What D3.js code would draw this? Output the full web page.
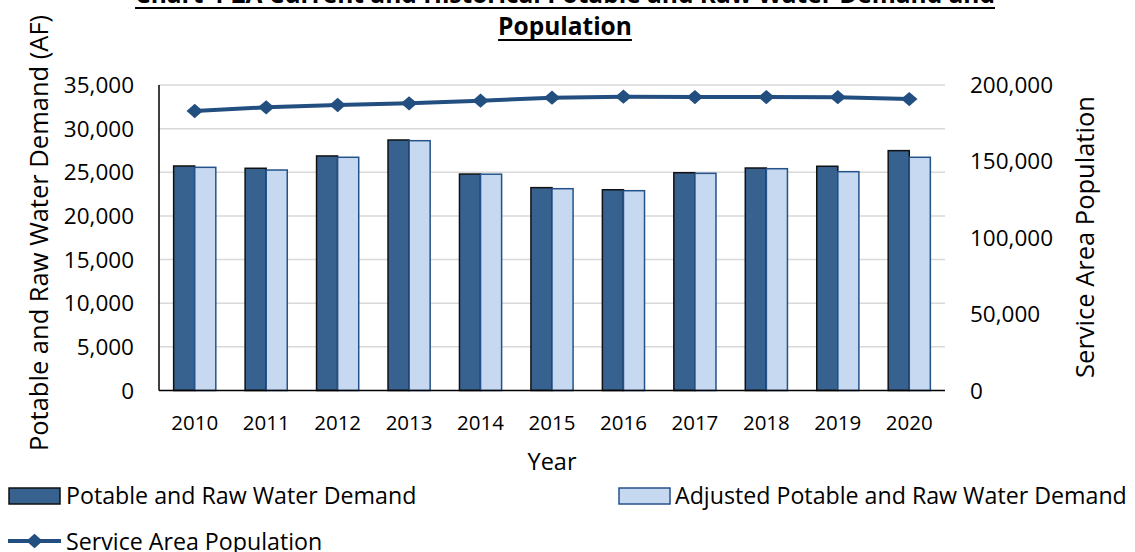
<!DOCTYPE html>
<html>
<head>
<meta charset="utf-8">
<script src="https://cdn.jsdelivr.net/npm/d3@7"></script>
<style>
  body { margin: 0; background: #fff; }
  svg { display: block; font-family: "Open Sans", Lato, sans-serif; }
</style>
</head>
<body>
<svg id="chart" width="1135" height="552"></svg>
<script>
var years = ['2010', '2011', '2012', '2013', '2014', '2015', '2016', '2017', '2018', '2019', '2020'];
var demand = [25720, 25460, 26870, 28700, 24800, 23240, 23000, 24950, 25490, 25690, 27480];
var adjusted = [25570, 25260, 26720, 28620, 24780, 23120, 22890, 24880, 25410, 25070, 26720];
var population = [182980, 185400, 186900, 188000, 189700, 191700, 192340, 192100, 192100, 192000, 190800];
var leftTicks = [0, 5000, 10000, 15000, 20000, 25000, 30000, 35000];
var rightTicks = [0, 50000, 100000, 150000, 200000];
var seriesNames = ['Potable and Raw Water Demand', 'Adjusted Potable and Raw Water Demand', 'Service Area Population'];

var dark = '#37618f', darkStroke = '#111';
var light = '#c6d9f0', lightStroke = '#24528a';
var lineColor = '#234e80';
var grid = '#d9d9d9';
var fmt = d3.format(',');

var svg = d3.select('#chart');
var plotLeft = 159, plotRight = 945, plotTop = 85, plotBottom = 390.5;

var x0 = d3.scaleBand().domain(years).range([plotLeft, plotRight]).paddingInner(0.41).paddingOuter(0.205);
var x1 = d3.scaleBand().domain([0, 1]).range([0, x0.bandwidth()]);
var yL = d3.scaleLinear().domain([0, 35000]).range([plotBottom, plotTop]);
var yR = d3.scaleLinear().domain([0, 200000]).range([plotBottom, plotTop]);

// gridlines
svg.append('g').selectAll('line').data(leftTicks.slice(1)).enter().append('line')
    .attr('x1', plotLeft).attr('x2', plotRight)
    .attr('y1', function (d) { return yL(d); })
    .attr('y2', function (d) { return yL(d); })
    .attr('stroke', grid).attr('stroke-width', 1.5);

// bars
var groups = svg.append('g').selectAll('g').data(years).enter().append('g')
    .attr('transform', function (d) { return 'translate(' + x0(d) + ',0)'; });
groups.append('rect')
    .attr('x', x1(0))
    .attr('width', x1.bandwidth())
    .attr('y', function (d, i) { return yL(demand[i]); })
    .attr('height', function (d, i) { return plotBottom - yL(demand[i]); })
    .attr('fill', dark).attr('stroke', darkStroke).attr('stroke-width', 1.5);
groups.append('rect')
    .attr('x', x1(1))
    .attr('width', x1.bandwidth())
    .attr('y', function (d, i) { return yL(adjusted[i]); })
    .attr('height', function (d, i) { return plotBottom - yL(adjusted[i]); })
    .attr('fill', light).attr('stroke', lightStroke).attr('stroke-width', 1.5);

// axis lines
svg.append('line').attr('x1', plotLeft).attr('x2', plotLeft).attr('y1', plotTop).attr('y2', plotBottom)
    .attr('stroke', '#000').attr('stroke-width', 1.5);
svg.append('line').attr('x1', plotLeft).attr('x2', plotRight).attr('y1', plotBottom).attr('y2', plotBottom)
    .attr('stroke', '#000').attr('stroke-width', 1.5);

// population line
var cx = function (i) { return x0(years[i]) + x0.bandwidth() / 2; };
var line = d3.line()
    .x(function (d, i) { return cx(i); })
    .y(function (d) { return yR(d); });
svg.append('path').datum(population)
    .attr('d', line).attr('fill', 'none')
    .attr('stroke', lineColor).attr('stroke-width', 4);
var diamond = d3.symbol().type(d3.symbolDiamond2).size(130);
svg.append('g').selectAll('path').data(population).enter().append('path')
    .attr('d', diamond)
    .attr('transform', function (d, i) { return 'translate(' + cx(i) + ',' + yR(d) + ') scale(1.15,1)'; })
    .attr('fill', lineColor);

// tick labels
svg.append('g').selectAll('text').data(leftTicks).enter().append('text')
    .attr('x', 134).attr('y', function (d) { return yL(d) + 8; })
    .attr('text-anchor', 'end').attr('font-size', 22.5).attr('fill', '#000')
    .text(function (d) { return fmt(d); });
svg.append('g').selectAll('text').data(rightTicks).enter().append('text')
    .attr('x', 970).attr('y', function (d) { return yR(d) + 8; })
    .attr('text-anchor', 'start').attr('font-size', 22.5).attr('fill', '#000')
    .text(function (d) { return fmt(d); });
svg.append('g').selectAll('text').data(years).enter().append('text')
    .attr('x', function (d, i) { return cx(i); }).attr('y', 430)
    .attr('text-anchor', 'middle').attr('font-size', 20.5).attr('fill', '#000')
    .text(function (d) { return d; });

// axis titles
svg.append('text').attr('x', (plotLeft + plotRight) / 2).attr('y', 470)
    .attr('text-anchor', 'middle').attr('font-size', 23.5).text('Year');
svg.append('text').attr('transform', 'translate(48,233) rotate(-90)')
    .attr('text-anchor', 'middle').attr('font-size', 25.5).text('Potable and Raw Water Demand (AF)');
svg.append('text').attr('transform', 'translate(1094,237) rotate(-90)')
    .attr('text-anchor', 'middle').attr('font-size', 25.5).text('Service Area Population');

// title
var t1 = svg.append('text').attr('x', 565).attr('y', 3)
    .attr('text-anchor', 'middle').attr('font-size', 24.5).attr('font-weight', 'bold')
    .text('Chart 4-2A Current and Historical Potable and Raw Water Demand and');
var t2 = svg.append('text').attr('x', 565).attr('y', 35)
    .attr('text-anchor', 'middle').attr('font-size', 24.5).attr('font-weight', 'bold')
    .text('Population');
[t1, t2].forEach(function (t) {
    var b = t.node().getBBox();
    svg.append('line').attr('x1', b.x).attr('x2', b.x + b.width)
        .attr('y1', +t.attr('y') + 5).attr('y2', +t.attr('y') + 5)
        .attr('stroke', '#000').attr('stroke-width', 2);
});

// legend
var leg = svg.append('g');
leg.append('rect').attr('x', 9).attr('y', 488).attr('width', 51).attr('height', 16)
    .attr('fill', dark).attr('stroke', darkStroke).attr('stroke-width', 1.5);
leg.append('text').attr('x', 66).attr('y', 504).attr('font-size', 23.2).text(seriesNames[0]);
leg.append('rect').attr('x', 619).attr('y', 488).attr('width', 51).attr('height', 16)
    .attr('fill', light).attr('stroke', lightStroke).attr('stroke-width', 1.5);
leg.append('text').attr('x', 675).attr('y', 504).attr('font-size', 23.2).text(seriesNames[1]);
leg.append('line').attr('x1', 8).attr('x2', 61).attr('y1', 541).attr('y2', 541)
    .attr('stroke', lineColor).attr('stroke-width', 4);
leg.append('path').attr('d', diamond)
    .attr('transform', 'translate(34.5,541) scale(1.15,1)').attr('fill', lineColor);
leg.append('text').attr('x', 66).attr('y', 550).attr('font-size', 23.2).text(seriesNames[2]);
</script>
</body>
</html>
